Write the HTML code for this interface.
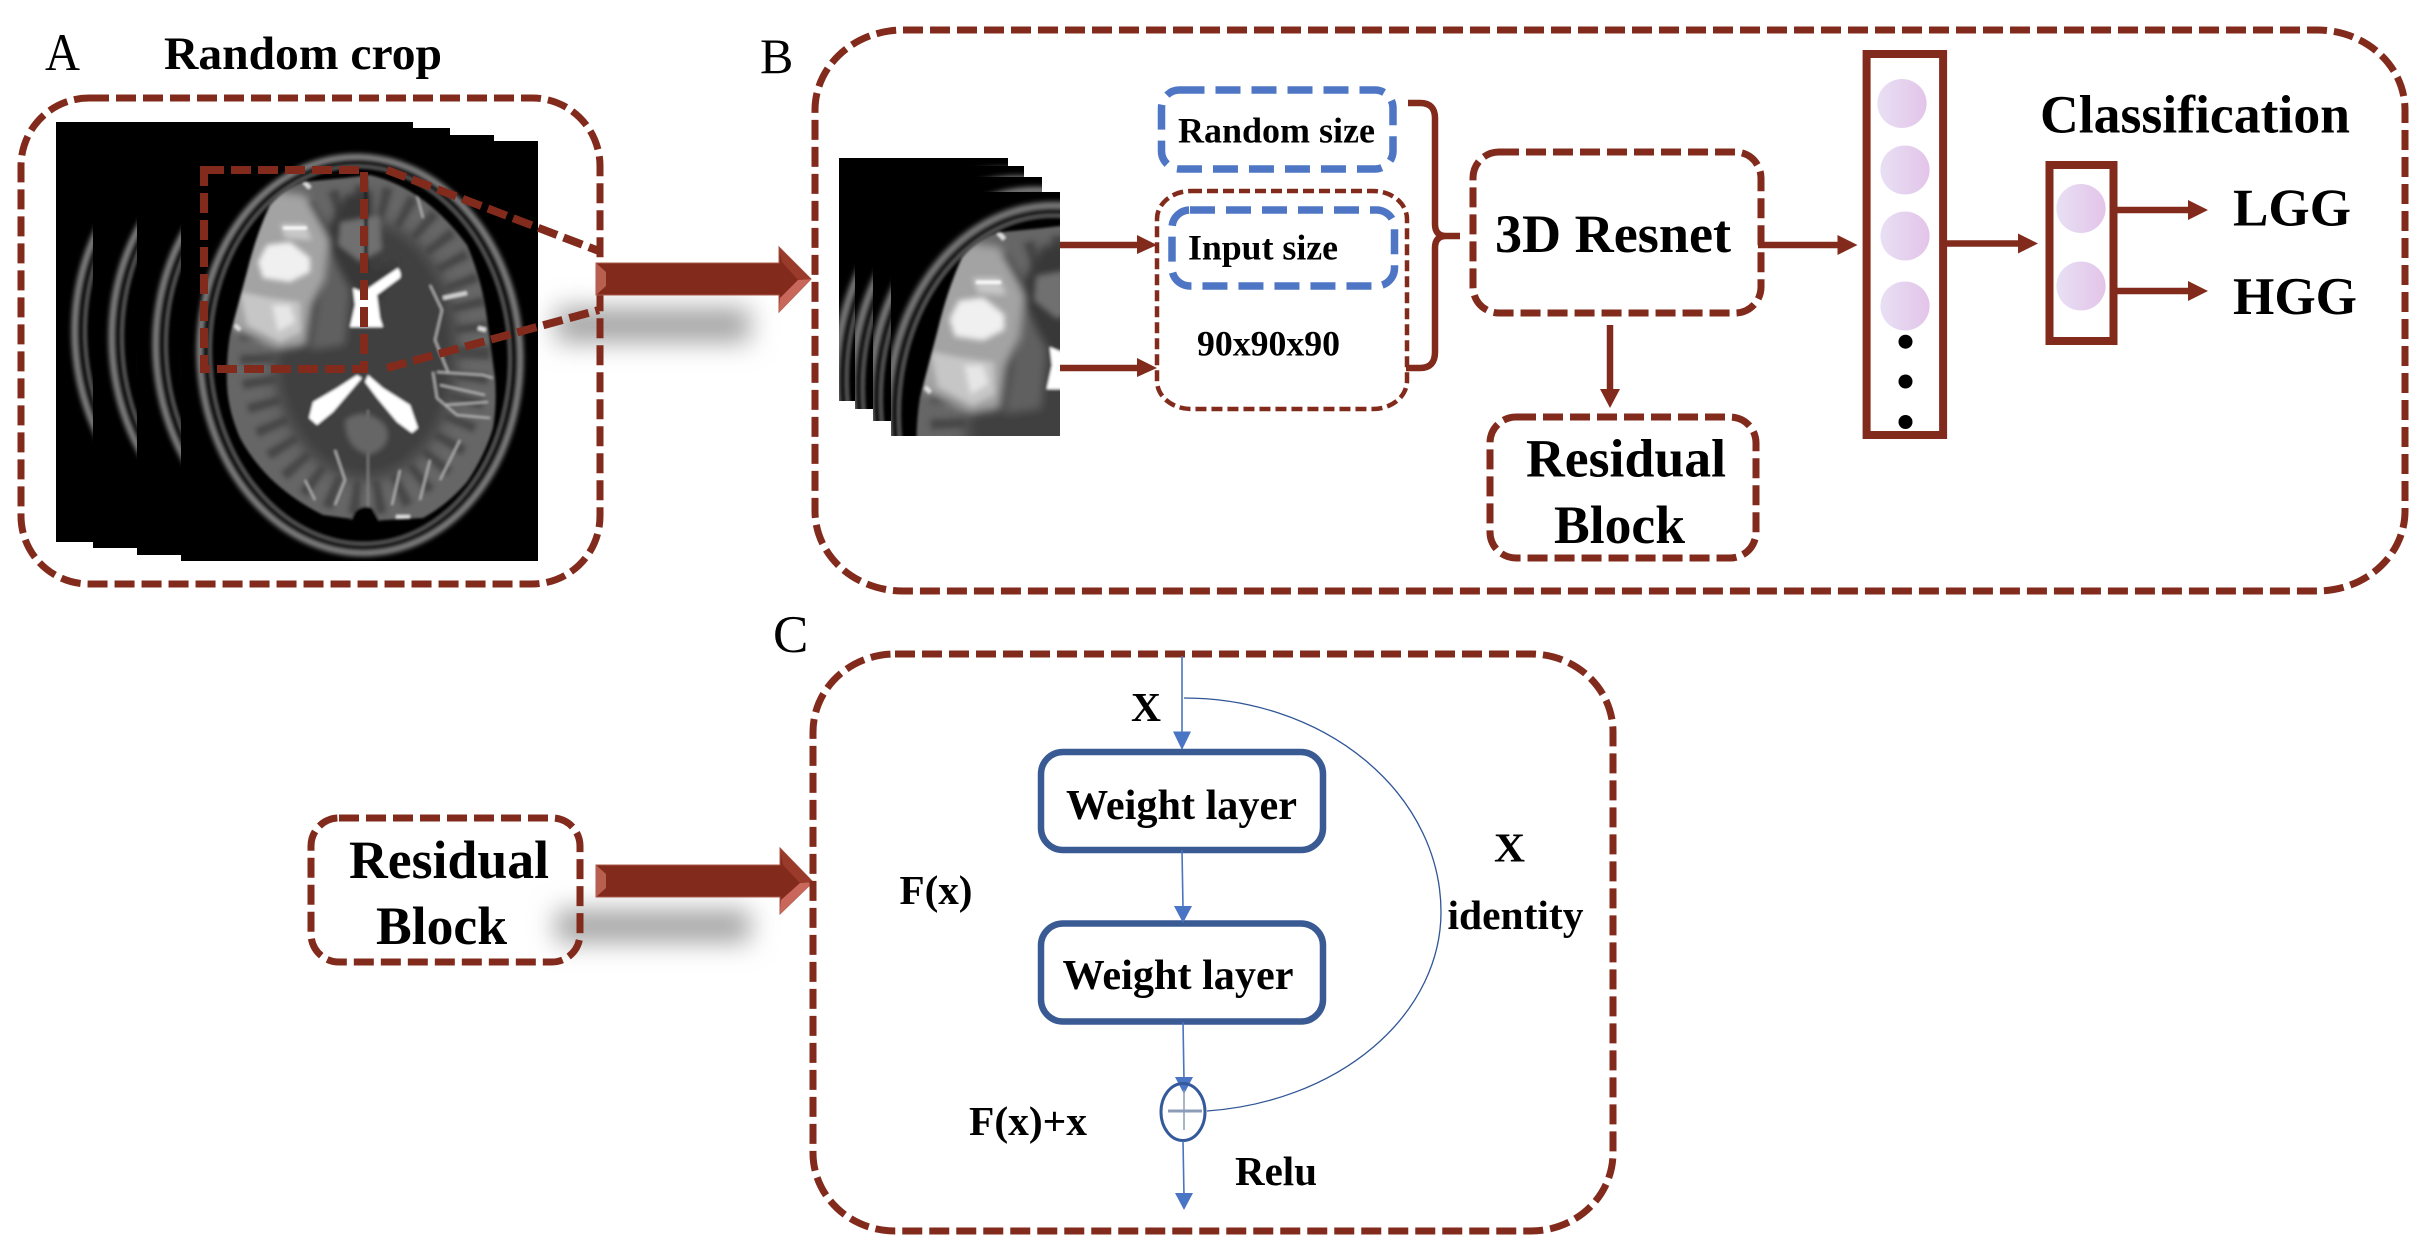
<!DOCTYPE html>
<html><head><meta charset="utf-8"><style>
html,body{margin:0;padding:0;background:#fff}
svg{display:block}
text{font-family:"Liberation Serif",serif;font-weight:bold;fill:#000}
.d{fill:none;stroke:#822b1c;stroke-width:7;stroke-dasharray:20 7}
.r{stroke:#822b1c;stroke-width:6.5;fill:none}
.h{fill:#822b1c}
.bd{fill:none;stroke:#4f76c4;stroke-width:7.5;stroke-dasharray:25 11}
.bl{stroke:#4a74bf;stroke-width:1.6;fill:none}
.bh{fill:#4a74c4}
.w{fill:#fff;stroke:#3a5a94;stroke-width:6.5}
</style></head><body>
<svg width="2428" height="1256" viewBox="0 0 2428 1256" xmlns="http://www.w3.org/2000/svg">
<defs>
<filter id="b05" x="-20%" y="-20%" width="140%" height="140%"><feGaussianBlur stdDeviation="0.6"/></filter>
<filter id="b1" x="-20%" y="-20%" width="140%" height="140%"><feGaussianBlur stdDeviation="1.2"/></filter>
<filter id="b2" x="-20%" y="-20%" width="140%" height="140%"><feGaussianBlur stdDeviation="2.5"/></filter>
<filter id="b4" x="-30%" y="-30%" width="160%" height="160%"><feGaussianBlur stdDeviation="4"/></filter>
<filter id="b6" x="-30%" y="-30%" width="160%" height="160%"><feGaussianBlur stdDeviation="7"/></filter>
<filter id="sh" x="-20%" y="-100%" width="140%" height="300%"><feGaussianBlur stdDeviation="13"/></filter>
<linearGradient id="pu" x1="0" x2="1" y1="0" y2="0"><stop offset="0" stop-color="#e8e0f4"/><stop offset="1" stop-color="#e3c4e9"/></linearGradient>
<clipPath id="brainclip"><path d="M370 175 Q425 188 467 245 Q482 280 487 318 L495 378 Q497 405 493 428 Q485 455 467 482 Q447 505 423 518 L367 521 L323 515 Q293 500 270 478 Q252 460 240 438 Q228 410 227 385 Q226 360 230 335 L247 272 Q256 235 270 205 Q285 188 303 182 L345 178Z"/></clipPath>
<clipPath id="a1"><rect x="56" y="122" width="357" height="420"/></clipPath>
<clipPath id="a2"><rect x="93" y="128" width="357" height="420"/></clipPath>
<clipPath id="a3"><rect x="137" y="135" width="357" height="420"/></clipPath>
<clipPath id="a4"><rect x="181" y="141" width="357" height="420"/></clipPath>
<clipPath id="c1"><rect x="839" y="158" width="169" height="243"/></clipPath>
<clipPath id="c2"><rect x="855" y="166" width="169" height="243"/></clipPath>
<clipPath id="c3"><rect x="873" y="177" width="169" height="244"/></clipPath>
<clipPath id="c4"><rect x="891" y="192" width="169" height="244"/></clipPath>
<g id="brain">
<g transform="rotate(-3 360 355)" fill="none">
<ellipse cx="360" cy="355" rx="160" ry="198" stroke="#828282" stroke-width="7" filter="url(#b2)"/>
<ellipse cx="360" cy="355" rx="150" ry="189" stroke="#4c4c4c" stroke-width="5" filter="url(#b1)"/>
</g>
<g filter="url(#b1)">
<g clip-path="url(#brainclip)">
<rect x="220" y="170" width="285" height="355" fill="#666"/>
<ellipse cx="365" cy="350" rx="92" ry="130" fill="#414141" filter="url(#b6)"/>
<ellipse cx="365" cy="350" rx="108" ry="148" fill="none" stroke="#464646" stroke-width="34" stroke-dasharray="9 14" filter="url(#b2)"/>
<path d="M345 195 L372 190 L372 270 L398 262 L380 300 L340 280 L325 235Z" fill="#383838" filter="url(#b4)"/>
<path d="M340 222 L380 215 L382 250 L360 262 L338 245Z" fill="#6f6f6f" filter="url(#b2)"/>
<path d="M322 235 L350 290 L345 345 L310 350 L320 290Z" fill="#606060" filter="url(#b4)"/>
<path d="M265 190 L305 195 L330 240 L325 280 L312 305 L306 345 L277 350 L228 325 L232 290 L245 255 L250 225Z" fill="#a3a3a3" filter="url(#b4)"/>
<path d="M240 292 L270 298 L300 302 L301 332 L280 342 L247 325Z" fill="#c6c6c6" filter="url(#b2)"/>
<path d="M272 305 L290 305 L295 322 L278 332Z" fill="#e6e6e6" filter="url(#b2)"/>
<path d="M267 245 L290 242 L310 258 L310 272 L290 282 L263 278 L258 262Z" fill="#f0f0f0" filter="url(#b2)"/>
<path d="M280 224 L305 224 L312 240 L285 238Z" fill="#c8c8c8" filter="url(#b2)"/>
<path d="M283 228 H307" stroke="#fff" stroke-width="3"/>
<g fill="none" stroke="#bbb" stroke-width="1.8">
<path d="M433 372 L437 398 L457 415 L490 418"/>
<path d="M437 372 L483 375 L493 378"/>
<path d="M440 385 L485 395 M445 405 L488 402"/>
<path d="M417 195 L423 218 M430 285 L442 310 L435 340 L448 372"/>
<path d="M305 480 L315 500 M335 450 L345 480 L335 505 M400 470 L392 505 M430 460 L420 500 M460 440 L440 480"/>
</g>
<path d="M443 298 L467 293" stroke="#d2d2d2" stroke-width="4"/>
<path d="M304 182 L310 188 M478 328 L486 330 M235 325 L240 330 M396 517 H410" stroke="#e0e0e0" stroke-width="4"/>
<path d="M368 410 L368 515" stroke="#8a8a8a" stroke-width="1.6"/>
<path d="M366 178 L366 270" stroke="#1e1e1e" stroke-width="3.5"/>
<path d="M345 420 Q365 405 385 425 Q395 445 370 455 Q345 450 345 420Z" fill="#666" filter="url(#b2)"/>
</g>
<path d="M355 512 Q363 504 372 508 L380 522 H350Z" fill="#000"/>
<path d="M398 268 Q402 274 400 278 L377 295 L380 318 L383 327 L350 327 L355 305 L353 288 L363 292 L373 285Z" fill="#fff"/>
<path d="M357 375 L337 388 L313 402 L309 418 L317 425 L333 412 L350 392 L362 378Z" fill="#fff"/>
<path d="M368 375 L383 388 L410 405 L418 428 L412 433 L397 422 L377 398 L365 382Z" fill="#fff"/>
</g>
</g>
</defs>
<rect width="2428" height="1256" fill="#fff"/>

<!-- shadows -->
<rect x="556" y="308" width="194" height="34" fill="#a2a2a2" filter="url(#sh)"/>
<rect x="556" y="910" width="194" height="32" fill="#a2a2a2" filter="url(#sh)"/>

<!-- A stack -->
<rect x="56" y="122" width="357" height="420" fill="#000"/>
<g clip-path="url(#a1)"><use href="#brain" transform="translate(-125 -19)"/></g>
<rect x="93" y="128" width="357" height="420" fill="#000"/>
<g clip-path="url(#a2)"><use href="#brain" transform="translate(-88 -13)"/></g>
<rect x="137" y="135" width="357" height="420" fill="#000"/>
<g clip-path="url(#a3)"><use href="#brain" transform="translate(-44 -6)"/></g>
<rect x="181" y="141" width="357" height="420" fill="#000"/>
<g clip-path="url(#a4)"><use href="#brain"/></g>

<!-- A box -->
<rect class="d" x="21" y="98" width="579" height="486" rx="68" ry="68"/>
<rect class="d" style="stroke-width:8" x="204" y="170" width="160" height="199"/>
<path class="d" style="stroke-width:8" d="M387 170 L599 251 M387 368 L599 310"/>

<!-- big arrows -->
<g>
<path d="M596 263 H779 V247 L811 279 L779 312 V295 H596Z" fill="#822b1c" stroke="#a9594a" stroke-width="1"/>
<path d="M811 279 L779 312 L780 298 L798 280Z" fill="#c9675a"/>
<path d="M779 247 L811 279 L798 280 L782 262Z" fill="#9a3a2b"/>
<path d="M596 263 L606 272 V286 L596 295Z" fill="#b85f4f"/>
</g>
<g>
<path d="M596 865 H780 V848 L813 882 L780 914 V897 H596Z" fill="#822b1c" stroke="#a9594a" stroke-width="1"/>
<path d="M813 882 L780 914 L781 900 L800 883Z" fill="#c9675a"/>
<path d="M780 848 L813 882 L800 883 L783 865Z" fill="#9a3a2b"/>
<path d="M596 865 L606 874 V888 L596 897Z" fill="#b85f4f"/>
</g>

<text x="45" y="70" font-size="53" style="font-weight:normal" textLength="35" lengthAdjust="spacingAndGlyphs">A</text>
<text x="164" y="69" font-size="47" textLength="278" lengthAdjust="spacingAndGlyphs">Random crop</text>
<text x="760" y="73" font-size="50" style="font-weight:normal">B</text>
<text x="773" y="652" font-size="53" style="font-weight:normal">C</text>

<!-- B -->
<rect class="d" x="815" y="30" width="1590" height="561" rx="88" ry="80"/>
<rect x="839" y="158" width="169" height="243" fill="#000"/>
<g clip-path="url(#c1)"><use href="#brain" transform="translate(625 2) scale(1.056 1.08)"/></g>
<rect x="855" y="166" width="169" height="243" fill="#000"/>
<g clip-path="url(#c2)"><use href="#brain" transform="translate(641 10) scale(1.056 1.08)"/></g>
<rect x="873" y="177" width="169" height="244" fill="#000"/>
<g clip-path="url(#c3)"><use href="#brain" transform="translate(659 21) scale(1.056 1.08)"/></g>
<rect x="891" y="192" width="169" height="244" fill="#000"/>
<g clip-path="url(#c4)"><use href="#brain" transform="translate(677 36) scale(1.056 1.08)"/></g>

<path class="r" d="M1060 245 H1140 M1060 368 H1140"/>
<path class="h" d="M1137 235 L1157 245 L1137 254Z M1137 358 L1157 368 L1137 377Z"/>

<rect class="bd" x="1161.5" y="90" width="231.5" height="79" rx="18"/>
<rect class="d" style="stroke-width:4.5;stroke-dasharray:11 5" x="1157" y="191" width="250" height="218" rx="34" ry="28"/>
<rect class="bd" x="1172" y="210" width="222.5" height="76" rx="18"/>
<text x="1178" y="142.5" font-size="36" textLength="197" lengthAdjust="spacingAndGlyphs">Random size</text>
<text x="1188" y="259.5" font-size="36" textLength="150" lengthAdjust="spacingAndGlyphs">Input size</text>
<text x="1197" y="355.5" font-size="36" textLength="143" lengthAdjust="spacingAndGlyphs">90x90x90</text>

<path class="r" d="M1408 103 H1420 Q1435 103 1435 118 V224 Q1435 236 1446 236 H1460 M1446 236 Q1435 236 1435 248 V352 Q1435 368 1420 368 H1406"/>

<rect class="d" x="1473" y="152" width="288" height="161" rx="26"/>
<text x="1495" y="252" font-size="54" textLength="236" lengthAdjust="spacingAndGlyphs">3D Resnet</text>
<path class="r" d="M1610 325 V392"/>
<path class="h" d="M1600 389 L1620 389 L1610 408Z"/>
<rect class="d" x="1490" y="417" width="266" height="141" rx="26"/>
<text x="1526" y="476.5" font-size="54" textLength="200" lengthAdjust="spacingAndGlyphs">Residual</text>
<text x="1554" y="543" font-size="54" textLength="131" lengthAdjust="spacingAndGlyphs">Block</text>

<path class="r" d="M1758 245 H1840"/>
<path class="h" d="M1837.5 235 L1857.5 245 L1837.5 255Z"/>
<rect x="1866.6" y="54" width="76.5" height="381" fill="none" stroke="#822b1c" stroke-width="8"/>
<ellipse cx="1902" cy="103.5" rx="24.6" ry="24.5" fill="url(#pu)"/>
<ellipse cx="1905" cy="170" rx="24.6" ry="24.5" fill="url(#pu)"/>
<ellipse cx="1905" cy="236" rx="24.6" ry="24.5" fill="url(#pu)"/>
<ellipse cx="1905" cy="306" rx="24.6" ry="24.5" fill="url(#pu)"/>
<circle cx="1905.5" cy="341.7" r="7"/><circle cx="1905.5" cy="381.5" r="7"/><circle cx="1905.5" cy="422" r="7"/>
<path class="r" d="M1947 243.5 H2020"/>
<path class="h" d="M2018 233.5 L2038 243.5 L2018 253.5Z"/>
<rect x="2049.5" y="165" width="64" height="176" fill="none" stroke="#822b1c" stroke-width="8"/>
<ellipse cx="2081" cy="208.5" rx="24.6" ry="24.5" fill="url(#pu)"/>
<ellipse cx="2081" cy="286" rx="24.6" ry="24.5" fill="url(#pu)"/>
<path class="r" d="M2117 210 H2190 M2117 291 H2190"/>
<path class="h" d="M2188 200 L2208 210 L2188 220Z M2188 281 L2208 291 L2188 301Z"/>
<text x="2040" y="132.5" font-size="54" textLength="310" lengthAdjust="spacingAndGlyphs">Classification</text>
<text x="2233" y="225.5" font-size="53" textLength="118" lengthAdjust="spacingAndGlyphs">LGG</text>
<text x="2233" y="314" font-size="53" textLength="124" lengthAdjust="spacingAndGlyphs">HGG</text>

<!-- Residual block C side -->
<rect class="d" x="311" y="818" width="269" height="144" rx="28"/>
<text x="349" y="878" font-size="54" textLength="200" lengthAdjust="spacingAndGlyphs">Residual</text>
<text x="376" y="944" font-size="54" textLength="131" lengthAdjust="spacingAndGlyphs">Block</text>

<!-- C -->
<rect class="d" x="813" y="654" width="800" height="577" rx="82" ry="78"/>
<path class="bl" d="M1182 656 V735"/><path class="bh" d="M1173 731.5 L1191 731.5 L1182 750Z"/>
<rect class="w" x="1041" y="752" width="282" height="98" rx="22"/>
<rect class="w" x="1041" y="923.5" width="282" height="98" rx="22"/>
<text x="1066" y="819" font-size="42" textLength="231" lengthAdjust="spacingAndGlyphs">Weight layer</text>
<text x="1062.5" y="989" font-size="42" textLength="231" lengthAdjust="spacingAndGlyphs">Weight layer</text>
<path class="bl" d="M1182 850 L1183 908"/><path class="bh" d="M1174 906 L1192 906 L1183 923Z"/>
<path class="bl" d="M1183 1022 L1184 1080"/><path class="bh" d="M1175 1077 L1193 1077 L1184 1094Z"/>
<ellipse cx="1183" cy="1112" rx="22" ry="28.5" fill="none" stroke="#355a9c" stroke-width="3"/>
<path d="M1168 1111 H1202" stroke="#8d9cb8" stroke-width="3"/>
<path d="M1184 1090 V1130" stroke="#8d9cb8" stroke-width="1.5"/>
<path class="bl" d="M1183 1141 L1184 1196"/><path class="bh" d="M1175 1193 L1193 1193 L1184 1210Z"/>
<path d="M1184 698 A257 214 0 0 1 1441 912 A257 200 0 0 1 1207 1111" fill="none" stroke="#2f5597" stroke-width="1.3"/>
<text x="1131" y="721" font-size="41.5" textLength="30" lengthAdjust="spacingAndGlyphs">X</text>
<text x="899.5" y="904" font-size="41" textLength="73" lengthAdjust="spacingAndGlyphs">F(x)</text>
<text x="1494" y="861.5" font-size="41.5" textLength="31" lengthAdjust="spacingAndGlyphs">X</text>
<text x="1447.5" y="929" font-size="41.5" textLength="136" lengthAdjust="spacingAndGlyphs">identity</text>
<text x="969" y="1135" font-size="41.5" textLength="118" lengthAdjust="spacingAndGlyphs">F(x)+x</text>
<text x="1235" y="1185" font-size="41" textLength="82" lengthAdjust="spacingAndGlyphs">Relu</text>
</svg>
</body></html>
